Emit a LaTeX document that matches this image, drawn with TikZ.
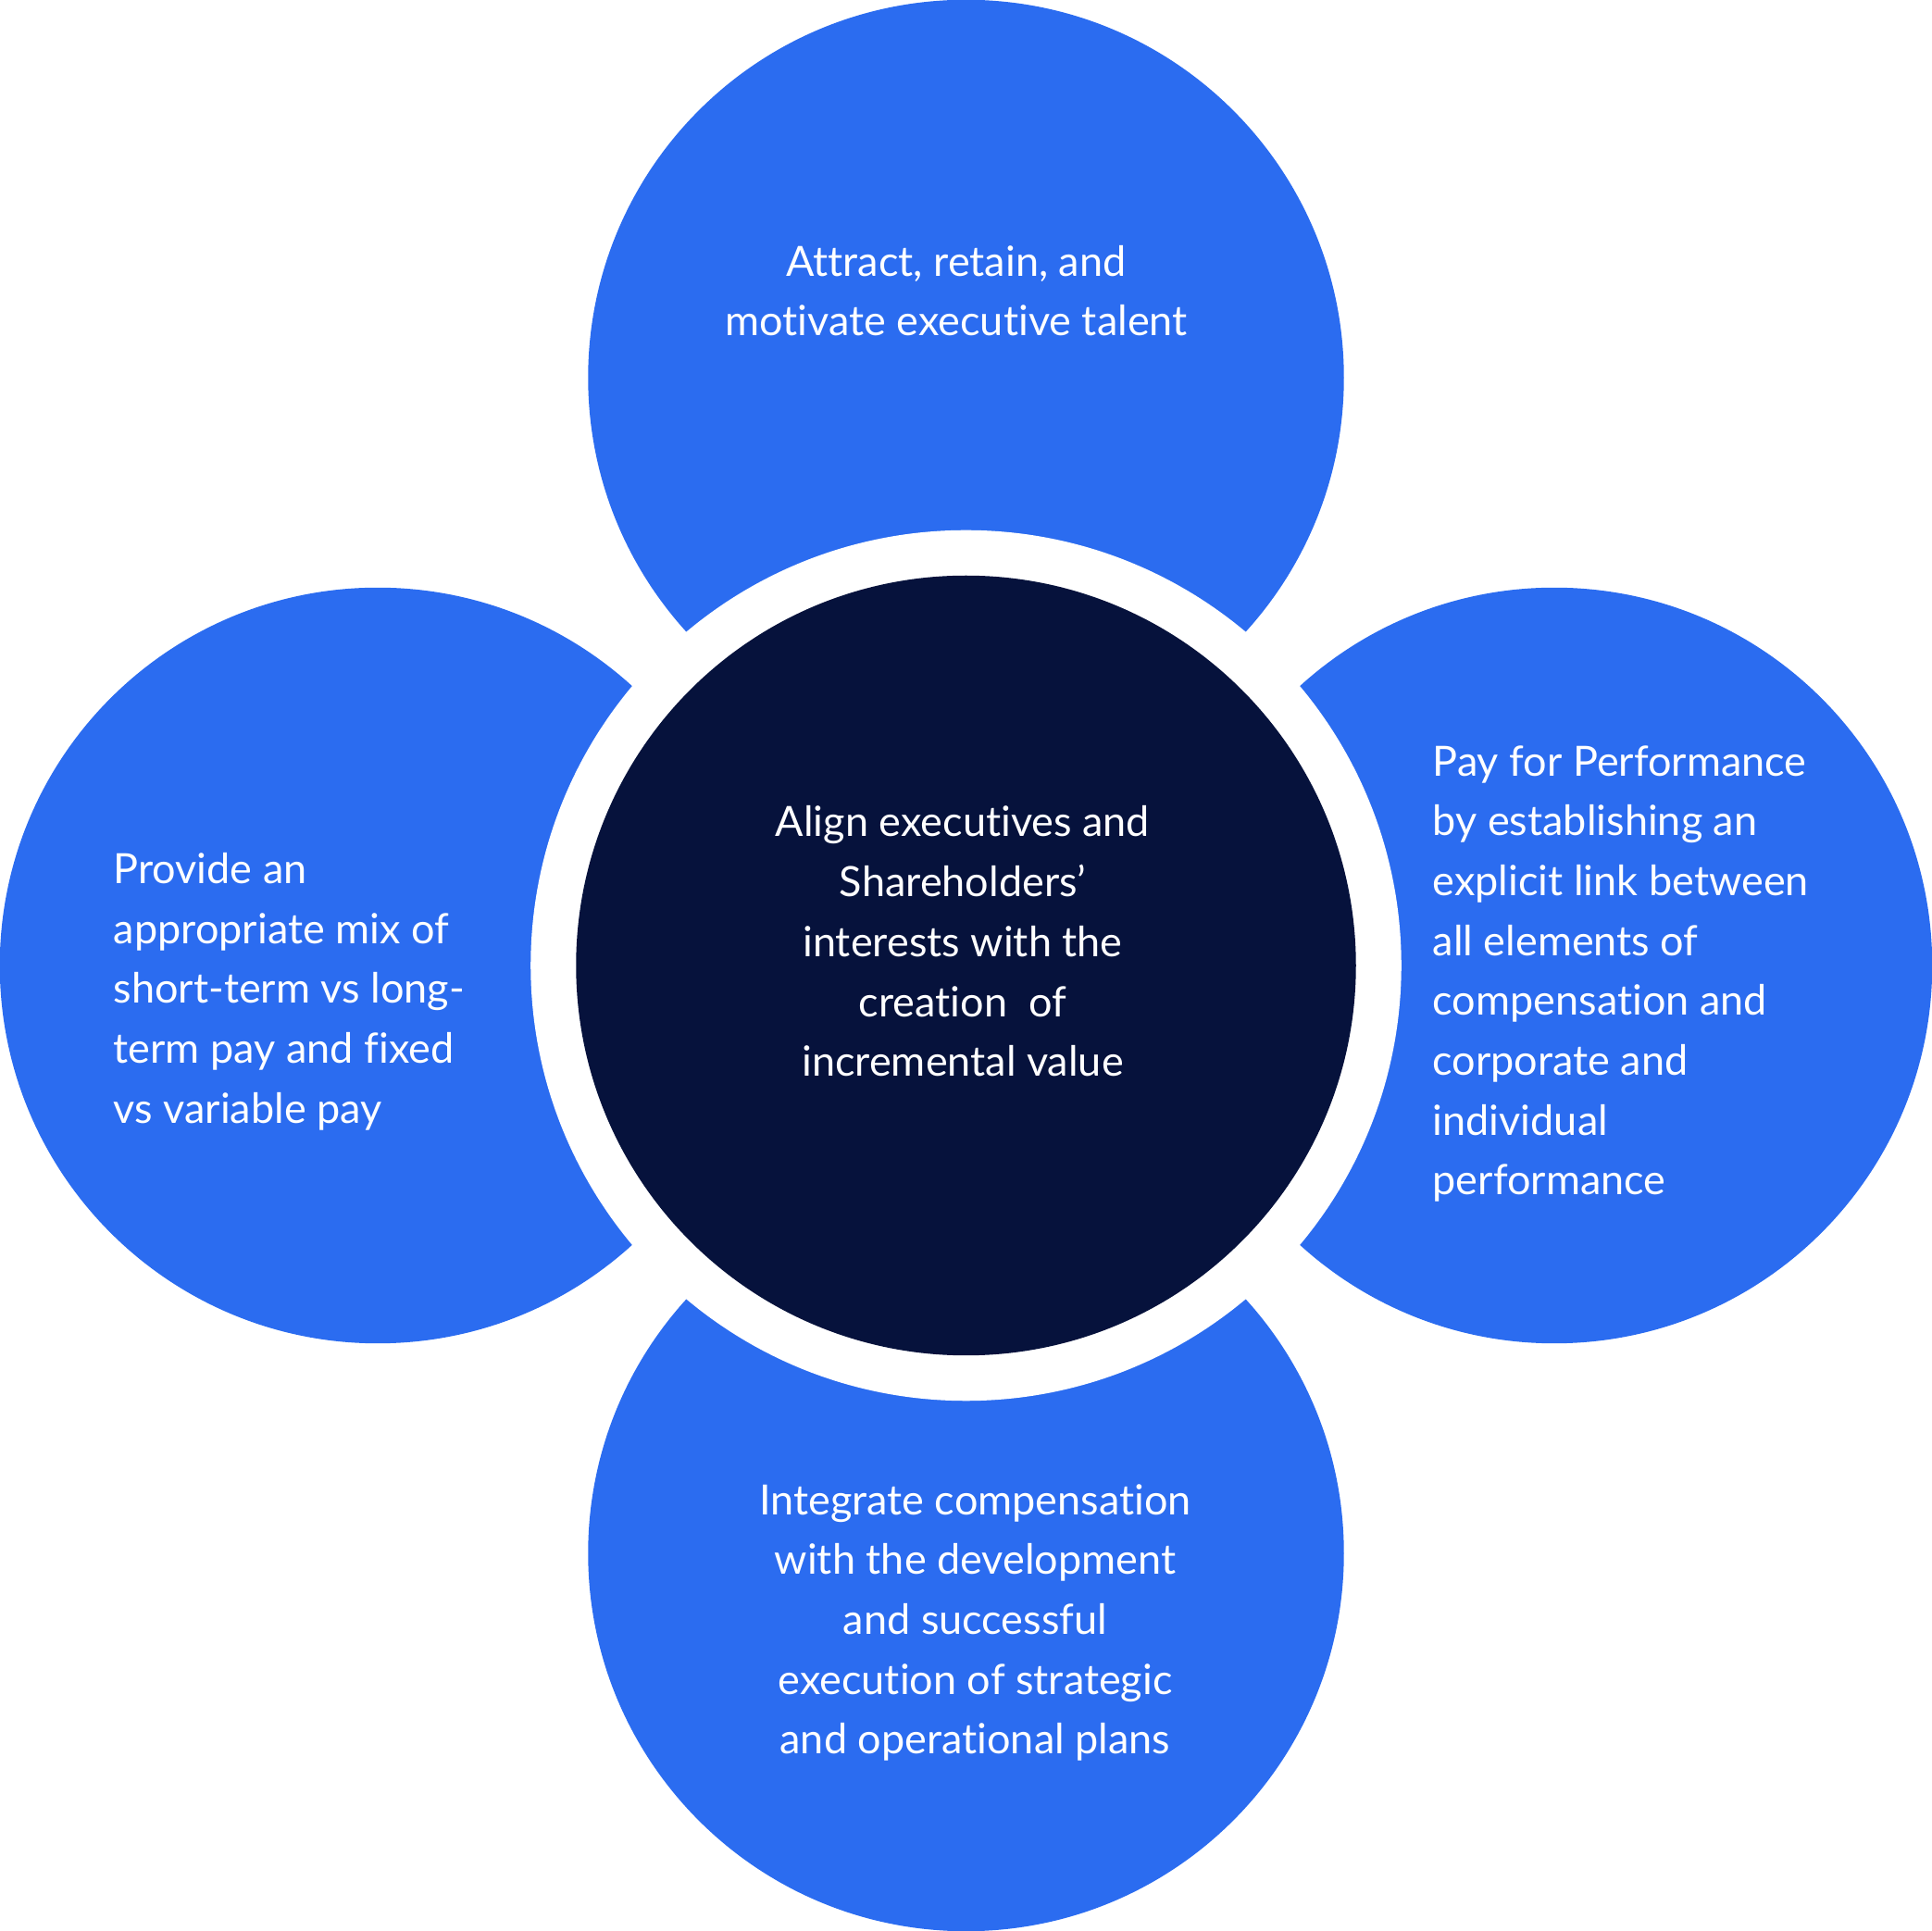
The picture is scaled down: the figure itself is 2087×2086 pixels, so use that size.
\documentclass[tikz,border=0pt]{standalone}
\usepackage{fontspec}
\setmainfont{Lato}[Ligatures=NoCommon]
\definecolor{petalblue}{RGB}{43,108,240}
\definecolor{hubnavy}{RGB}{6,18,60}

\begin{document}
\begin{tikzpicture}
[x = 0.01cm, y = -0.01cm,
petal/.style = {circle,fill=petalblue,minimum size=8.16cm,inner sep=0pt},
gap/.style = {circle,fill=white,minimum size=9.40cm,inner sep=0pt},
hub/.style = {circle,fill=hubnavy,minimum size=8.42cm,inner sep=0pt},
txt/.style = {text=white,inner sep=0pt,font=\fontsize{12.8}{18.4}\selectfont},
mid/.style = {txt,align=center},
side/.style = {txt,align=left,anchor=west}]
\useasboundingbox (0,0) rectangle (2087,2086);
% petals
\node[petal] (attract) at (1043.5,408) {};
\node[petal] (integrate) at (1043.5,1678) {};
\node[petal] (provide) at (408,1043) {};
\node[petal] (pay) at (1679,1043) {};
% ring and hub
\node[gap] (ring) at (1043.5,1043) {};
\node[hub] (align) at (1043.5,1043) {};
% texts
\node[mid] (attracttxt) at (1033,314) {Attract, retain, and\\motivate executive talent};
\node[mid] (aligntxt) at (1040,1017) {Align executives and\\Shareholders'\\interests with the\\creation~ of\\incremental value};
\node[side] (providetxt) at (122,1071) {Provide an\\appropriate mix of\\short-term vs long-\\term pay and fixed\\vs variable pay};
\node[side] (paytxt) at (1547,1052) {Pay for Performance\\by establishing an\\explicit link between\\all elements of\\compensation and\\corporate and\\individual\\performance};
\node[mid] (integratetxt) at (1053.5,1753) {Integrate compensation\\with the development\\and successful\\execution of strategic\\and operational plans};
\end{tikzpicture}
\end{document}
